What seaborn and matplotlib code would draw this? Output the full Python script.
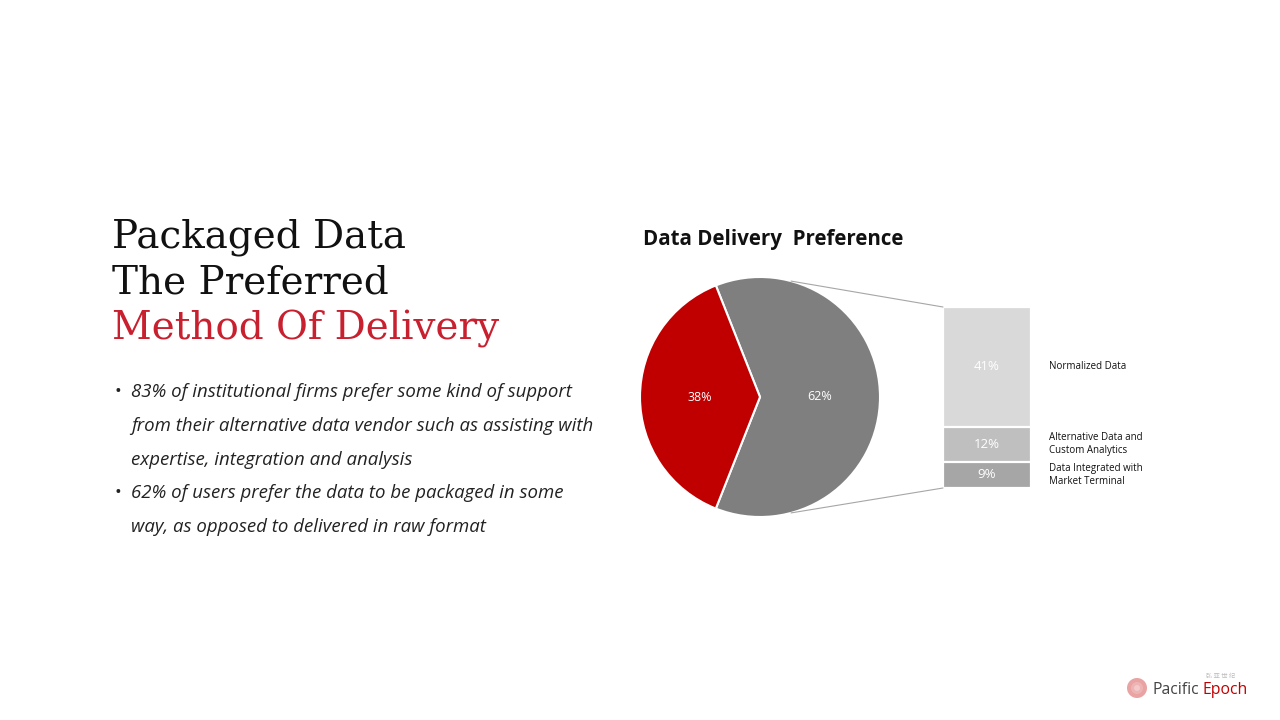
#!/usr/bin/env python3
"""Bar-of-pie chart: data delivery preference."""

import numpy as np
import pandas as pd
import matplotlib.pyplot as plt
import seaborn as sns
from matplotlib.patches import ConnectionPatch, Circle

# pie: packaged vs raw
pie_labels = ["Packaged", "Raw"]
pie_values = [62, 38]
pie_colors = ["#7f7f7f", "#c00000"]

# breakdown of the packaged share (top to bottom)
bar_labels = ["Normalized Data", "Alternative Data and\nCustom Analytics",
              "Data Integrated with\nMarket Terminal"]
bar_values = [41, 12, 9]
bar_colors = ["#d9d9d9", "#bfbfbf", "#a6a6a6"]

chart_title = "Data Delivery  Preference"
title_lines = ["Packaged Data", "The Preferred", "Method Of Delivery"]
bullet_lines = [
    ["83% of institutional firms prefer some kind of support",
     "from their alternative data vendor such as assisting with",
     "expertise, integration and analysis"],
    ["62% of users prefer the data to be packaged in some",
     "way, as opposed to delivered in raw format"],
]

W, H = 1280, 720


def px(x, y):
    """Pixel position (top-left origin) to figure fraction."""
    return x / W, 1 - y / H


sns.set_theme(style="white")
plt.rcParams['font.family'] = ['Open Sans', 'DejaVu Sans']

fig = plt.figure(figsize=(W / 100, H / 100), dpi=100)
fig.patch.set_facecolor("white")

# --- left text block ---
title_colors = ["#111111", "#111111", "#c8202f"]
for i, (line, col) in enumerate(zip(title_lines, title_colors)):
    fig.text(*px(112, 248 + i * 46), line, fontsize=28, color=col,
             family="DejaVu Serif", va="baseline")

y = 397
for para in bullet_lines:
    fig.text(*px(114, y), "\u2022", fontsize=13, color="#222222", va="baseline")
    for line in para:
        fig.text(*px(131, y), line, fontsize=13.4, style="italic",
                 color="#222222", va="baseline")
        y += 33.8

# --- chart title ---
fig.text(*px(643, 245), chart_title, fontsize=14.8, fontweight="bold",
         color="#111111", va="baseline")

# --- pie ---
ax_pie = fig.add_axes([640 / W, 1 - 517 / H, 240 / W, 240 / H])
start = -pie_values[0] / sum(pie_values) * 180
wedges, _, autotexts = ax_pie.pie(
    pie_values, colors=pie_colors, startangle=start, counterclock=True,
    autopct="%.0f%%", pctdistance=0.5,
    wedgeprops=dict(edgecolor="white", linewidth=1.5),
    textprops=dict(color="white", fontsize=9),
)
ax_pie.set_xlim(-1.0, 1.0)
ax_pie.set_ylim(-1.0, 1.0)
ax_pie.set_axis_off()

# --- stacked bar (overlayed cumulative bars) ---
ax_bar = fig.add_axes([943 / W, 1 - 488 / H, 88 / W, 181 / H])
df = pd.DataFrame({"label": bar_labels, "value": bar_values, "color": bar_colors})
stack = df.iloc[::-1].reset_index(drop=True)
stack["top"] = stack["value"].cumsum()
stack["mid"] = stack["top"] - stack["value"] / 2

for _, row in stack.iloc[::-1].iterrows():
    sns.barplot(x=["packaged"], y=[row["top"]], color=row["color"], width=1,
                saturation=1, edgecolor="white", linewidth=1.6, ax=ax_bar)

ax_bar.set_xlim(-0.5, 0.5)
ax_bar.set_ylim(0, stack["top"].iloc[-1])
ax_bar.set_axis_off()

name_tf = ax_bar.get_yaxis_transform()
for _, row in stack.iterrows():
    ax_bar.text(0, row["mid"], f"{row['value']}%", ha="center", va="center",
                color="white", fontsize=9.5)
    ax_bar.text(1.205, row["mid"], row["label"], transform=name_tf,
                ha="left", va="center", fontsize=7, color="#111111",
                linespacing=1.25)

# connector lines from pie edge to bar corners
ang = np.deg2rad(75)
for sign, yb in [(1, stack["top"].iloc[-1]), (-1, 0)]:
    con = ConnectionPatch(xyA=(np.cos(ang), sign * np.sin(ang)),
                          coordsA=ax_pie.transData,
                          xyB=(-0.5, yb), coordsB=ax_bar.transData,
                          color="#a6a6a6", linewidth=0.8)
    fig.add_artist(con)

# --- logo ---
for r, col in [(0.10, "#e9a3a3"), (0.06, "#eeb4b4"), (0.03, "#f3c9c9")]:
    fig.patches.append(Circle((11.37, 0.32), r, transform=fig.dpi_scale_trans,
                              facecolor=col, edgecolor="none"))
fig.text(*px(1153, 694), "Pacific", fontsize=11.3, color="#444444", va="baseline")
fig.text(*px(1202, 694), "Epoch", fontsize=11.3, color="#c00000", va="baseline")
fig.text(*px(1206, 678), "弘 亚 世 纪", fontsize=4.5, color="#bbbbbb",
         family=["Noto Sans CJK SC", "DejaVu Sans"], va="baseline")

fig.savefig("out.png", dpi=100)
